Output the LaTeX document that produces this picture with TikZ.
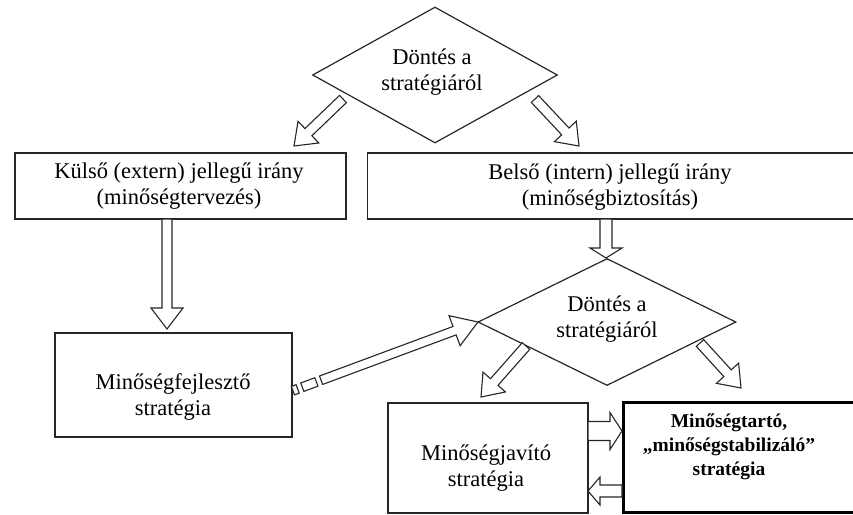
\documentclass[tikz,border=0pt]{standalone}
\usepackage{fontspec}
\setmainfont{Liberation Serif}
\usetikzlibrary{calc,shapes.geometric}
\tikzset{
  box/.style={draw=black!85, line width=1.3pt, rectangle, inner sep=0pt},
  thickbox/.style={draw=black, line width=3pt, rectangle, inner sep=0pt},
  dia/.style={draw=black!85, line width=1.2pt, diamond, inner sep=0pt},
  txt/.style={font=\fontsize{22.5}{26}\selectfont, align=center, inner sep=0pt},
  btxt/.style={font=\fontsize{19.5}{24}\selectfont\bfseries, align=center, inner sep=0pt},
  barrow/.style={draw=black!85, fill=white, line width=1.1pt, line join=miter},
}
% block arrow: [style]{A}{B}{half shaft}{half head}{head length}
\newcommand\blockarr[6][]{%
  \coordinate (baC) at ($(#3)!#6!(#2)$);
  \draw[barrow,#1] ($(#2)!#4!90:(#3)$) -- ($(baC)!#4!90:(#3)$) -- ($(baC)!#5!90:(#3)$)
     -- (#3) -- ($(baC)!#5!-90:(#3)$) -- ($(baC)!#4!-90:(#3)$) -- ($(#2)!#4!-90:(#3)$) -- cycle;
}
% shaft segment: {A}{B}{d1}{d2}{half width}
\newcommand\shaftseg[5]{%
  \coordinate (sgP) at ($(#1)!#3!(#2)$);
  \coordinate (sgQ) at ($(#1)!#4!(#2)$);
  \draw[barrow] ($(sgP)!#5!90:(#2)$) -- ($(sgQ)!#5!90:(#2)$) -- ($(sgQ)!#5!-90:(#2)$) -- ($(sgP)!#5!-90:(#2)$) -- cycle;
}
\begin{document}
\begin{tikzpicture}[x=1pt,y=-1pt]
\useasboundingbox (0,0) rectangle (853,514);
\clip (0,0) rectangle (853,514);
% diamonds
\node[dia, minimum width=245pt, minimum height=136pt] (d1) at (435,75) {};
\node[txt] (d1t) at (432,72) {Döntés a\\stratégiáról};
\node[dia, minimum width=258pt, minimum height=127pt] (d2) at (607,322) {};
\node[txt] (d2t) at (607,319) {Döntés a\\stratégiáról};
% top boxes
\node[box, minimum width=331pt, minimum height=66pt] (kb) at (180.5,186) {};
\node[txt] (kbt) at (179,186) {Külső (extern) jellegű irány\\(minőségtervezés)};
\node[box, minimum width=500pt, minimum height=66pt, anchor=west] (bb) at (367,186) {};
\node[txt] (bbt) at (610,187) {Belső (intern) jellegű irány\\(minőségbiztosítás)};
% middle left box
\node[box, minimum width=237pt, minimum height=104pt] (fb) at (173.5,385) {};
\node[txt] (fbt) at (173,397) {Minőségfejlesztő\\stratégia};
% bottom boxes
\node[box, minimum width=200pt, minimum height=110pt] (jb) at (488,458) {};
\node[txt] (jbt) at (486,468) {Minőségjavító\\stratégia};
\node[thickbox, minimum width=300pt, minimum height=110pt, anchor=west] (tb) at (622,457) {};
\node[btxt] (tbt) at (729,447) {Minőségtartó,\\„minőségstabilizáló”\\stratégia};
% connector end points
\coordinate (a1s) at (343,99);  \coordinate (a1e) at (294,146);
\coordinate (a2s) at (535,99);  \coordinate (a2e) at (579,146);
\coordinate (a3s) at (167,219); \coordinate (a3e) at (167,329);
\coordinate (a4s) at (606,219); \coordinate (a4e) at (606,258);
\coordinate (a5s) at (526,346); \coordinate (a5e) at (481,397);
\coordinate (a6s) at (700,343); \coordinate (a6e) at (741,388);
\coordinate (a7s) at (588,431); \coordinate (a7e) at (622,431);
\coordinate (a8s) at (622,491); \coordinate (a8e) at (588,491);
\coordinate (a9s) at (292,391); \coordinate (a9e) at (478,322);
\blockarr{a1s}{a1e}{5pt}{15pt}{20pt}
\blockarr{a2s}{a2e}{5pt}{15pt}{20pt}
\blockarr{a3s}{a3e}{5pt}{16pt}{21pt}
\blockarr{a4s}{a4e}{6pt}{16pt}{10pt}
\blockarr{a5s}{a5e}{5pt}{15pt}{20pt}
\blockarr{a6s}{a6e}{5pt}{15pt}{20pt}
\blockarr{a7s}{a7e}{9.5pt}{18.5pt}{12pt}
\blockarr{a8s}{a8e}{6pt}{14pt}{12pt}
% dashed block arrow
\shaftseg{a9s}{a9e}{1pt}{6pt}{4.5pt}
\shaftseg{a9s}{a9e}{11pt}{26pt}{4.5pt}
\coordinate (a9m) at ($(a9s)!31pt!(a9e)$);
\blockarr{a9m}{a9e}{4.5pt}{16pt}{25pt}
\end{tikzpicture}
\end{document}
